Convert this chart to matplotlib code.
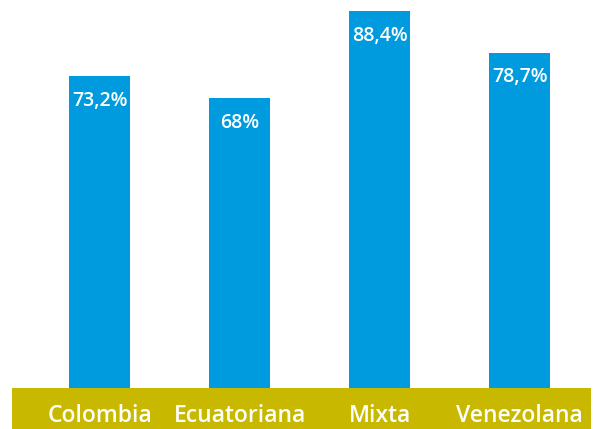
import matplotlib
matplotlib.use("Agg")
import matplotlib.pyplot as plt

categories = ["Colombia", "Ecuatoriana", "Mixta", "Venezolana"]
values = [73.2, 68.0, 88.4, 78.7]
value_labels = ["73,2%", "68%", "88,4%", "78,7%"]

BLUE = "#009BDE"
GOLD = "#C8B800"
W, H = 595, 429
dpi = 100
fig = plt.figure(figsize=(W / dpi, H / dpi), dpi=dpi)
fig.patch.set_facecolor("white")

band_top = 388
left_px, right_px = 12, 591
ax = fig.add_axes([left_px / W, (H - band_top) / H, (right_px - left_px) / W, band_top / H])
ax.set_facecolor("none")
x = list(range(len(categories)))
ax.bar(x, values, width=0.436, color=BLUE)
ax.set_xlim(-0.625, 3.51)
ax.set_ylim(0, band_top / 4.262)
ax.axis("off")

font = dict(family=["Open Sans", "DejaVu Sans"], weight="semibold", color="white")
for xi, v, lab in zip(x, values, value_labels):
    ax.annotate(lab, (xi, v), xytext=(0, -24.5 * 72 / dpi), textcoords="offset points",
                ha="center", va="center", fontsize=14, **font)

# gold band
band = fig.add_axes([left_px / W, 0, (right_px - left_px) / W, (H - band_top) / H])
band.set_facecolor(GOLD)
band.set_xlim(ax.get_xlim())
band.set_ylim(0, 1)
for s in band.spines.values():
    s.set_visible(False)
band.set_xticks([])
band.set_yticks([])
for xi, c in zip(x, categories):
    band.text(xi, 0.32, c, ha="center", va="center", fontsize=16.5, **font)

fig.savefig("out.png", dpi=dpi, facecolor="white")
